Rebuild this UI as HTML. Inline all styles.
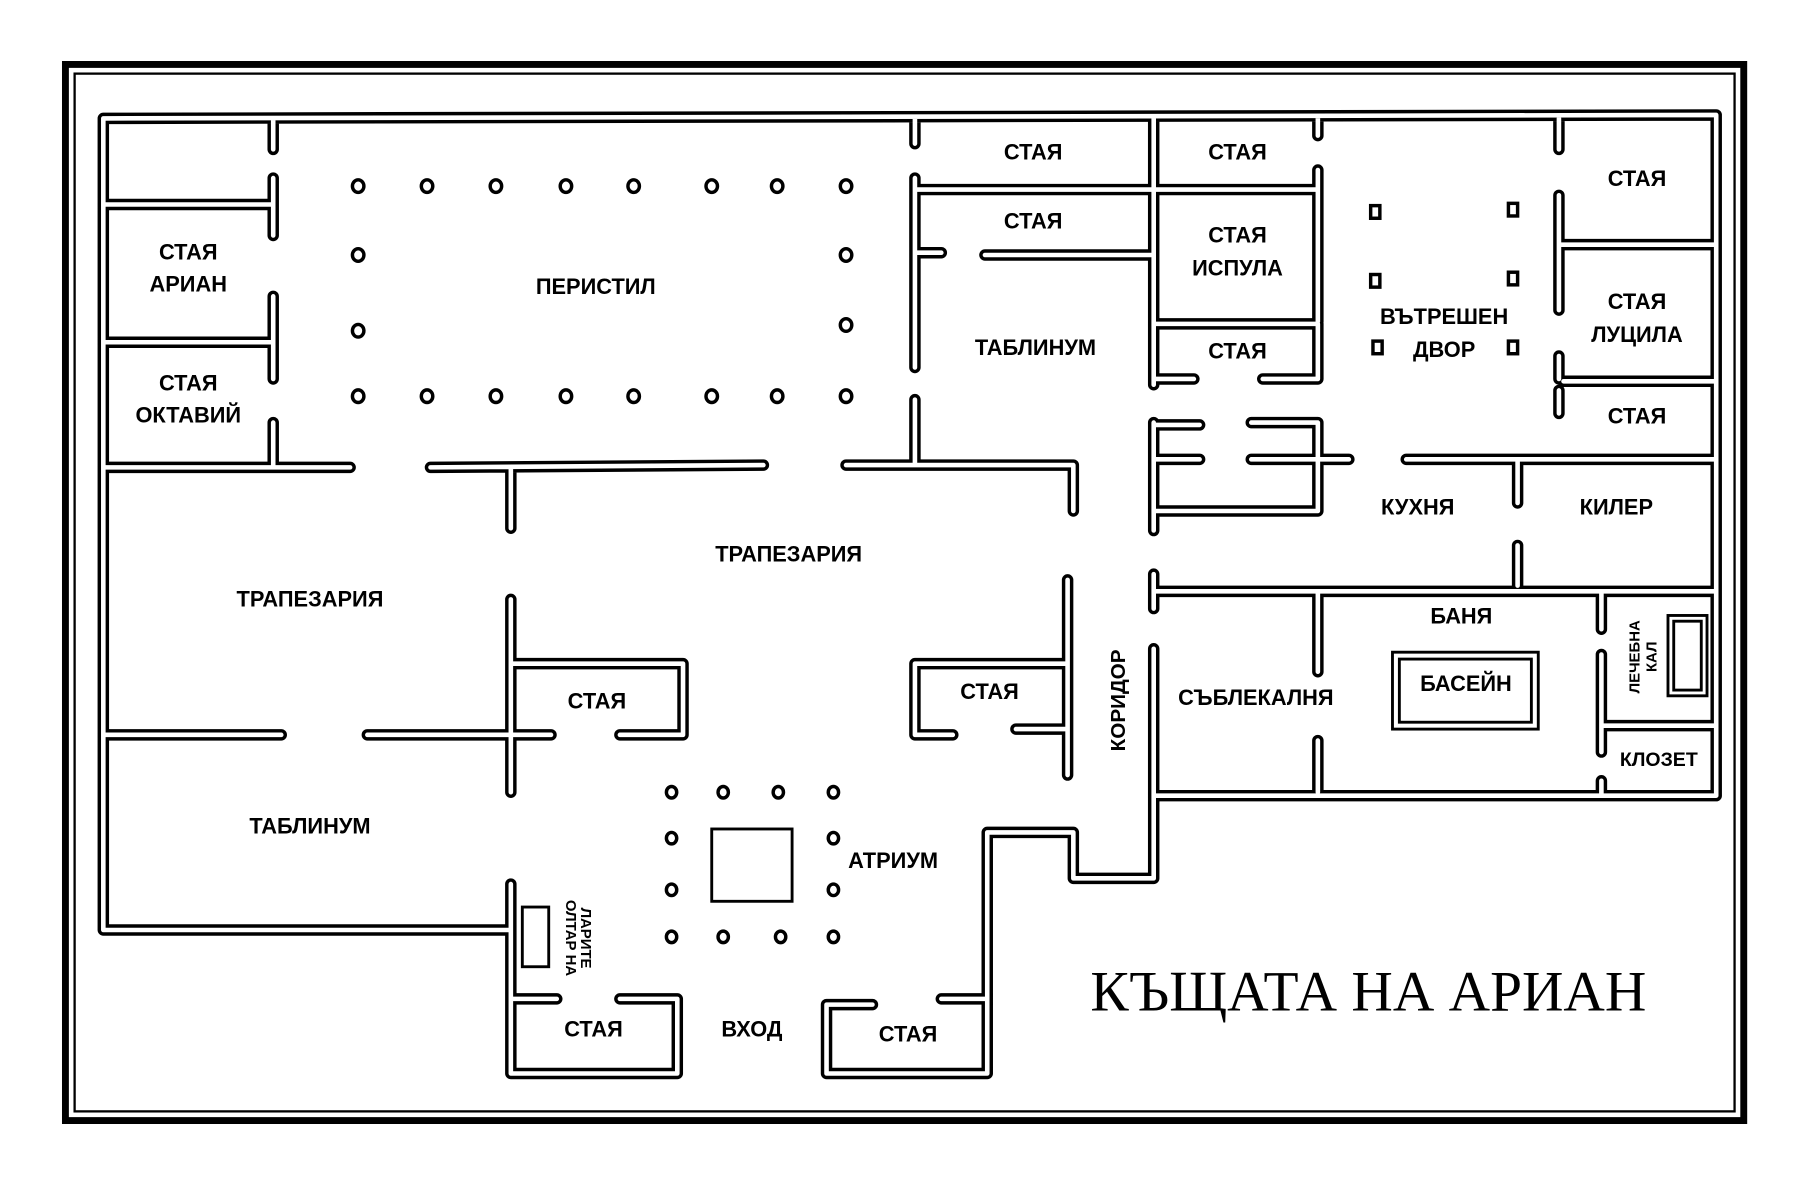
<!DOCTYPE html>
<html><head><meta charset="utf-8"><style>
html,body{margin:0;padding:0;background:#fff;}
svg{display:block;}
text{font-family:"Liberation Sans",sans-serif;font-weight:bold;fill:#000;}
</style></head><body>
<svg width="1800" height="1185" viewBox="0 0 1568 1032" xmlns="http://www.w3.org/2000/svg">
<rect x="0" y="0" width="1568" height="1032" fill="#fff"/>
<rect x="57" y="56" width="1462" height="920" fill="none" stroke="#000" stroke-width="6"/>
<rect x="65" y="64" width="1446" height="904" fill="none" stroke="#000" stroke-width="2"/>
<g id="walls" fill="none" stroke-linecap="round" stroke-linejoin="round">
<g stroke="#000" stroke-width="10">
<path id="w" d="
M90,103 L1495,100 L1495,693 L1005,693 L1005,765 L935,765 L935,725 L860,725 L860,935 L720,935 L720,875 L760,875 M820,870 L860,870
M90,103 L90,810 L445,810 M445,770 L445,935 L590,935 L590,870 L540,870 M485,870 L445,870
M90,407 L305,407 M375,407 L665,405 M737,405 L935,405 L935,445 M445,407 L445,460
M238,103 L238,130 M238,155 L238,205 M238,258 L238,330 M238,368 L238,407 M90,178 L238,178 M90,298 L238,298
M797,103 L797,125 M797,155 L797,320 M797,348 L797,405 M797,165 L1005,165 M797,220 L820,220 M858,222 L1005,222 M1005,103 L1005,335
M1005,165 L1148,165 M1148,103 L1148,118 M1148,148 L1148,280 M1005,282 L1148,282 M1148,282 L1148,330 M1005,330 L1040,330 M1100,330 L1148,330
M1358,103 L1358,130 M1358,170 L1358,270 M1358,310 L1358,330 M1358,340 L1358,360 M1358,213 L1495,213 M1362,332 L1495,332
M1005,368 L1005,462 M1005,370 L1045,370 M1005,400 L1045,400 M1090,368 L1148,368 L1148,445 L1005,445 M1090,400 L1175,400 M1225,400 L1495,400 M1322,400 L1322,438 M1322,475 L1322,510
M1005,500 L1005,530 M1005,515 L1495,515 M1148,515 L1148,585 M1148,645 L1148,690 M1395,515 L1395,548 M1395,570 L1395,655 M1395,632 L1495,632 M1395,680 L1395,693 M1005,565 L1005,693
M930,505 L930,675 M930,578 L797,578 L797,640 L830,640 M885,635 L930,635
M445,522 L445,690 M445,578 L595,578 L595,640 L540,640 M320,640 L480,640 M90,640 L245,640"/>
</g>
<use href="#w" stroke="#fff" stroke-width="4"/>
</g>
<g fill="none" stroke="#000" stroke-width="2.5">
<rect x="1213" y="568" width="127" height="67"/><rect x="1219" y="574" width="115" height="55"/>
<rect x="1453" y="536" width="34" height="70"/><rect x="1458" y="541" width="24" height="60"/>
<rect x="620" y="722" width="70" height="63"/>
<rect x="455" y="790" width="23" height="52"/>
</g>
<g fill="#fff" stroke="#000" stroke-width="3">
<g id="cr">
<ellipse cx="312" cy="162" rx="5" ry="5.5"/><ellipse cx="372" cy="162" rx="5" ry="5.5"/><ellipse cx="432" cy="162" rx="5" ry="5.5"/><ellipse cx="493" cy="162" rx="5" ry="5.5"/><ellipse cx="552" cy="162" rx="5" ry="5.5"/><ellipse cx="620" cy="162" rx="5" ry="5.5"/><ellipse cx="677" cy="162" rx="5" ry="5.5"/><ellipse cx="737" cy="162" rx="5" ry="5.5"/>
</g>
<use href="#cr" transform="translate(0,183)"/>
<ellipse cx="312" cy="222" rx="5" ry="5.5"/><ellipse cx="312" cy="288" rx="5" ry="5.5"/><ellipse cx="737" cy="222" rx="5" ry="5.5"/><ellipse cx="737" cy="283" rx="5" ry="5.5"/>
<ellipse cx="585" cy="690" rx="4.5" ry="5"/><ellipse cx="630" cy="690" rx="4.5" ry="5"/><ellipse cx="678" cy="690" rx="4.5" ry="5"/><ellipse cx="726" cy="690" rx="4.5" ry="5"/>
<ellipse cx="585" cy="730" rx="4.5" ry="5"/><ellipse cx="726" cy="730" rx="4.5" ry="5"/><ellipse cx="585" cy="775" rx="4.5" ry="5"/><ellipse cx="726" cy="775" rx="4.5" ry="5"/>
<ellipse cx="585" cy="816" rx="4.5" ry="5"/><ellipse cx="630" cy="816" rx="4.5" ry="5"/><ellipse cx="680" cy="816" rx="4.5" ry="5"/><ellipse cx="726" cy="816" rx="4.5" ry="5"/>
<rect x="1194" y="179" width="8" height="11"/><rect x="1314" y="177" width="8" height="11"/><rect x="1194" y="239" width="8" height="11"/><rect x="1314" y="237" width="8" height="11"/><rect x="1196" y="297" width="8" height="11"/><rect x="1314" y="297" width="8" height="11"/>
</g>
<g font-size="19" text-anchor="middle">
<text x="900" y="139">СТАЯ</text><text x="1078" y="139">СТАЯ</text><text x="1426" y="162">СТАЯ</text>
<text x="900" y="199">СТАЯ</text>
<text x="164" y="226">СТАЯ</text><text x="164" y="254">АРИАН</text>
<text x="519" y="256">ПЕРИСТИЛ</text>
<text x="1078" y="211">СТАЯ</text><text x="1078" y="240">ИСПУЛА</text>
<text x="1258" y="282">ВЪТРЕШЕН</text><text x="1258" y="311">ДВОР</text>
<text x="1426" y="269">СТАЯ</text><text x="1426" y="298">ЛУЦИЛА</text>
<text x="164" y="340">СТАЯ</text><text x="164" y="368">ОКТАВИЙ</text>
<text x="902" y="309">ТАБЛИНУМ</text><text x="1078" y="312">СТАЯ</text><text x="1426" y="369">СТАЯ</text>
<text x="1235" y="448">КУХНЯ</text><text x="1408" y="448">КИЛЕР</text>
<text x="687" y="489">ТРАПЕЗАРИЯ</text><text x="270" y="528">ТРАПЕЗАРИЯ</text>
<text x="1273" y="543">БАНЯ</text><text x="1277" y="602">БАСЕЙН</text>
<text x="520" y="617">СТАЯ</text><text x="862" y="609">СТАЯ</text>
<text x="1094" y="614">СЪБЛЕКАЛНЯ</text><text x="1445" y="667" font-size="17">КЛОЗЕТ</text>
<text x="270" y="726">ТАБЛИНУМ</text><text x="778" y="756">АТРИУМ</text>
<text x="517" y="903">СТАЯ</text><text x="655" y="903">ВХОД</text><text x="791" y="907">СТАЯ</text>
<text transform="translate(980,610) rotate(-90)" font-size="18">КОРИДОР</text>
<text transform="translate(1428,572) rotate(-90)" font-size="13" font-family="Liberation Serif">ЛЕЧЕБНА</text>
<text transform="translate(1443,572) rotate(-90)" font-size="13" font-family="Liberation Serif">КАЛ</text>
<text transform="translate(493,817) rotate(90)" font-size="13" font-family="Liberation Serif">ОЛТАР НА</text>
<text transform="translate(506,817) rotate(90)" font-size="13" font-family="Liberation Serif">ЛАРИТЕ</text>
</g>
<text x="1192" y="880" font-size="50" text-anchor="middle" style="font-family:'Liberation Serif',serif;font-weight:normal">КЪЩАТА НА АРИАН</text>
</svg>
</body></html>
